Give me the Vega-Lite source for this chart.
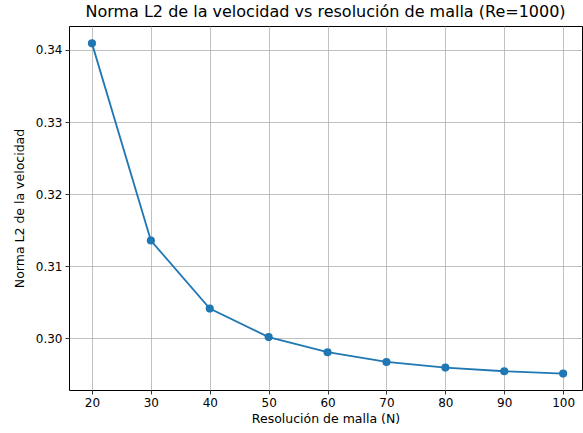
{
  "$schema": "https://vega.github.io/schema/vega-lite/v6.json",
  "autosize": {"type": "none"},
  "padding": {"left": 69, "top": 26, "right": 1, "bottom": 43},
  "width": 513,
  "height": 364,
  "background": "white",
  "config": {
    "font": "DejaVu Sans",
    "view": {"stroke": "#000000", "strokeWidth": 1},
    "axis": {
      "grid": true, "gridColor": "#b0b0b0", "gridWidth": 0.8, "gridOpacity": 1,
      "domain": false, "tickColor": "#000000", "tickSize": 4, "tickWidth": 0.8,
      "labelFont": "DejaVu Sans", "labelFontSize": 12, "labelColor": "#000000",
      "titleFont": "DejaVu Sans", "titleFontSize": 12.5, "titleFontWeight": "normal", "titleColor": "#000000",
      "labelPadding": 3
    }
  },
  "title": {"text": "Norma L2 de la velocidad vs resolución de malla (Re=1000)", "font": "DejaVu Sans", "fontSize": 16, "fontWeight": "normal", "color": "#000000", "offset": 6, "anchor": "middle"},
  "data": {"values": [
    {"N": 20, "L2": 0.34091},
    {"N": 30, "L2": 0.31356},
    {"N": 40, "L2": 0.30411},
    {"N": 50, "L2": 0.30016},
    {"N": 60, "L2": 0.29806},
    {"N": 70, "L2": 0.29671},
    {"N": 80, "L2": 0.29593},
    {"N": 90, "L2": 0.29542},
    {"N": 100, "L2": 0.2951}
  ]},
  "mark": {"type": "line", "color": "#1f77b4", "strokeWidth": 1.8, "point": {"filled": true, "size": 66, "color": "#1f77b4", "opacity": 1}},
  "encoding": {
    "x": {"field": "N", "type": "quantitative", "title": "Resolución de malla (N)",
          "scale": {"domain": [16.1, 103.2], "nice": false, "zero": false},
          "axis": {"values": [20, 30, 40, 50, 60, 70, 80, 90, 100], "titlePadding": 4}},
    "y": {"field": "L2", "type": "quantitative", "title": "Norma L2 de la velocidad",
          "scale": {"domain": [0.29282, 0.34332], "nice": false, "zero": false},
          "axis": {"values": [0.30, 0.31, 0.32, 0.33, 0.34], "format": ".2f", "titlePadding": 9}}
  }
}
